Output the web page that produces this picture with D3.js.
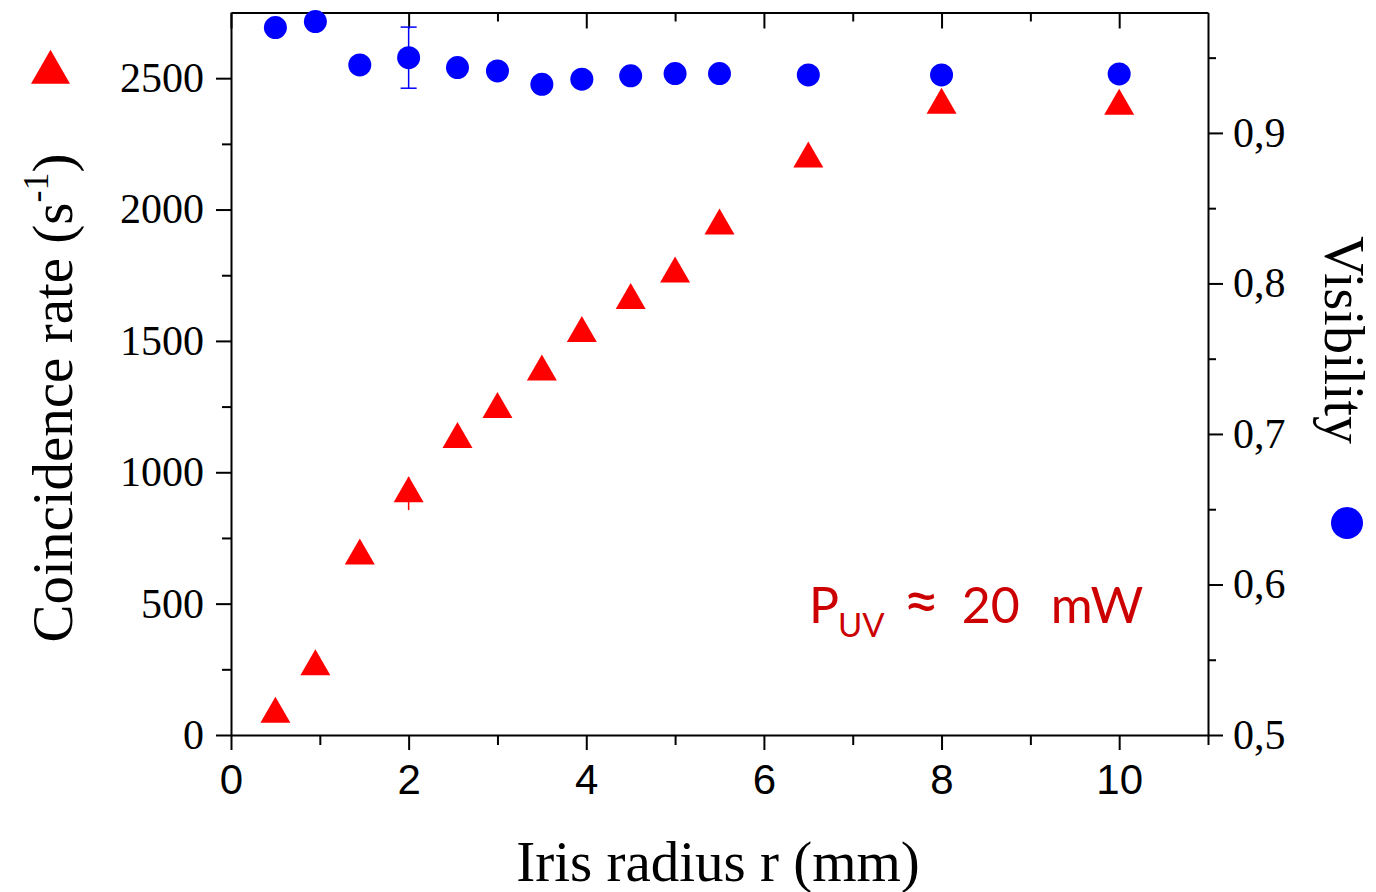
<!DOCTYPE html>
<html>
<head>
<meta charset="utf-8">
<script src="https://cdn.jsdelivr.net/npm/d3@7"></script>
<style>
  html, body { margin: 0; padding: 0; background: #fff; }
  svg { display: block; }
</style>
</head>
<body>
<svg id="chart" width="1376" height="892"></svg>
<script>
// ---- data ----
const radius     = [0.5, 0.95, 1.45, 2.0, 2.55, 3.0, 3.5, 3.95, 4.5, 5.0, 5.5, 6.5, 8.0, 10.0];
const rate       = [80, 260, 682, 919, 1125, 1240, 1382, 1529, 1654, 1755, 1938, 2193, 2398, 2394];
const rateErr    = [0, 0, 0, 63, 0, 0, 0, 0, 0, 0, 0, 0, 0, 0];
const visibility = [0.970, 0.974, 0.9452, 0.950, 0.9434, 0.9412, 0.9323, 0.9357, 0.9379, 0.9394, 0.9394, 0.9385, 0.9385, 0.9392];
const visErr     = [0, 0, 0, 0.0203, 0, 0, 0, 0, 0, 0, 0, 0, 0, 0];

const xMajor = [0, 2, 4, 6, 8, 10];
const xMinor = [1, 3, 5, 7, 9, 11];
const yLMajor = [0, 500, 1000, 1500, 2000, 2500];
const yLMinor = [250, 750, 1250, 1750, 2250];
const yRMajor = [0.5, 0.6, 0.7, 0.8, 0.9];
const yRMinor = [0.55, 0.65, 0.75, 0.85, 0.95];

const xTitle = "Iris radius r (mm)";
const yLTitle = "Coincidence rate (s";
const yRTitle = "Visibility";

// ---- layout ----
const svg = d3.select("#chart");
const L = 231, R = 1208, T = 12.5, B = 735;
const x = d3.scaleLinear().domain([0, 11]).range([L, R]);
const yL = d3.scaleLinear().domain([0, 2750]).range([B, T]);
const yR = d3.scaleLinear().domain([0.5, 0.98]).range([B, T]);

const serif = "'Liberation Serif','Times New Roman',serif";
const sans = "'Liberation Sans',Arial,sans-serif";

function styleAxis(g) {
  g.selectAll("path.domain").attr("stroke", "#000").attr("stroke-width", 2);
  g.selectAll(".tick line").attr("stroke", "#000").attr("stroke-width", 2);
}

// bottom axis
const gB = svg.append("g").attr("transform", `translate(0,${B})`)
  .call(d3.axisBottom(x).tickValues(xMajor).tickSize(15).tickSizeOuter(0).tickPadding(14).tickFormat(d3.format("d")));
styleAxis(gB);
gB.selectAll(".tick text").attr("font-family", sans).attr("font-size", 42).attr("fill", "#000");
svg.append("g").attr("transform", `translate(0,${B})`)
  .call(d3.axisBottom(x).tickValues(xMinor).tickSize(10).tickSizeOuter(0).tickFormat(""))
  .call(g => { styleAxis(g); g.select("path.domain").remove(); });

// top axis (inward ticks)
const gT = svg.append("g").attr("transform", `translate(0,${T})`)
  .call(d3.axisBottom(x).tickValues(xMajor).tickSize(16).tickSizeOuter(0).tickFormat(""));
styleAxis(gT);
svg.append("g").attr("transform", `translate(0,${T})`)
  .call(d3.axisBottom(x).tickValues(xMinor.filter(v => v < 11)).tickSize(9).tickSizeOuter(0).tickFormat(""))
  .call(g => { styleAxis(g); g.select("path.domain").remove(); });

// left axis
const gL = svg.append("g").attr("transform", `translate(${L},0)`)
  .call(d3.axisLeft(yL).tickValues(yLMajor).tickSize(15).tickSizeOuter(0).tickPadding(12).tickFormat(d3.format("d")));
styleAxis(gL);
gL.selectAll(".tick text").attr("font-family", serif).attr("font-size", 42).attr("fill", "#000");
svg.append("g").attr("transform", `translate(${L},0)`)
  .call(d3.axisLeft(yL).tickValues(yLMinor).tickSize(9).tickSizeOuter(0).tickFormat(""))
  .call(g => { styleAxis(g); g.select("path.domain").remove(); });

// right axis
const gR = svg.append("g").attr("transform", `translate(${R},0)`)
  .call(d3.axisRight(yR).tickValues(yRMajor).tickSize(15).tickSizeOuter(0).tickPadding(10)
    .tickFormat(d => d.toFixed(1).replace(".", ",")));
styleAxis(gR);
gR.selectAll(".tick text").attr("font-family", serif).attr("font-size", 42).attr("fill", "#000");
svg.append("g").attr("transform", `translate(${R},0)`)
  .call(d3.axisRight(yR).tickValues(yRMinor).tickSize(8).tickSizeOuter(0).tickFormat(""))
  .call(g => { styleAxis(g); g.select("path.domain").remove(); });

// ---- markers ----
const triW = 30, triH = 26;
const triPath = (w, h) => `M0,${-h * 2 / 3}L${w / 2},${h / 3}L${-w / 2},${h / 3}Z`;

const pts = radius.map((r, i) => ({ r, rate: rate[i], re: rateErr[i], v: visibility[i], ve: visErr[i] }));

// visibility error bars
const visE = svg.append("g").attr("stroke", "#0000ff").attr("stroke-width", 1.5);
pts.filter(d => d.ve > 0).forEach(d => {
  const cx = x(d.r);
  visE.append("line").attr("x1", cx).attr("x2", cx).attr("y1", yR(d.v - d.ve)).attr("y2", yR(d.v + d.ve));
  [d.v - d.ve, d.v + d.ve].forEach(v => visE.append("line")
    .attr("x1", cx - 8).attr("x2", cx + 8).attr("y1", yR(v)).attr("y2", yR(v)));
});
// rate error bars
const rateE = svg.append("g").attr("stroke", "#ff0000").attr("stroke-width", 1.5);
pts.filter(d => d.re > 0).forEach(d => {
  const cx = x(d.r);
  rateE.append("line").attr("x1", cx).attr("x2", cx).attr("y1", yL(d.rate - d.re)).attr("y2", yL(d.rate + d.re));
});

svg.append("g").selectAll("circle").data(pts).join("circle")
  .attr("cx", d => x(d.r)).attr("cy", d => yR(d.v)).attr("r", 11.5).attr("fill", "#0000ff");

svg.append("g").selectAll("path").data(pts).join("path")
  .attr("d", triPath(triW, triH))
  .attr("transform", d => `translate(${x(d.r)},${yL(d.rate)})`)
  .attr("fill", "#ff0000");

// ---- titles ----
svg.append("text").attr("x", 718).attr("y", 881).attr("text-anchor", "middle")
  .attr("font-family", serif).attr("font-size", 57).attr("fill", "#000").text(xTitle);

const yt = svg.append("text").attr("transform", "translate(72,398) rotate(-90)")
  .attr("text-anchor", "middle").attr("font-family", serif).attr("font-size", 57).attr("fill", "#000");
yt.append("tspan").text(yLTitle);
yt.append("tspan").attr("dy", -24).attr("font-size", 36).text("-1");
yt.append("tspan").attr("dy", 24).text(")");

svg.append("text").attr("transform", "translate(1325,340) rotate(90)")
  .attr("text-anchor", "middle").attr("font-family", serif).attr("font-size", 56).attr("fill", "#000").text(yRTitle);

// legend markers
svg.append("path").attr("d", triPath(39, 34)).attr("transform", "translate(50.5,72.5)").attr("fill", "#ff0000");
svg.append("circle").attr("cx", 1347).attr("cy", 523).attr("r", 16).attr("fill", "#0000ff");

// annotation
const ann = svg.append("text").attr("x", 809).attr("y", 623).attr("font-family", "Lato, 'Open Sans', sans-serif")
  .attr("font-size", 50).attr("fill", "#cc0000").attr("xml:space", "preserve");
ann.append("tspan").text("P");
ann.append("tspan").attr("dy", 14).attr("dx", -1).attr("font-size", 33).text("UV");
ann.append("tspan").attr("dy", -14).attr("dx", 18).attr("font-size", 64).text("\u2248");
ann.append("tspan").attr("dx", 22).text("20");
ann.append("tspan").attr("dx", 31).attr("font-size", 51).text("mW");
</script>
</body>
</html>
